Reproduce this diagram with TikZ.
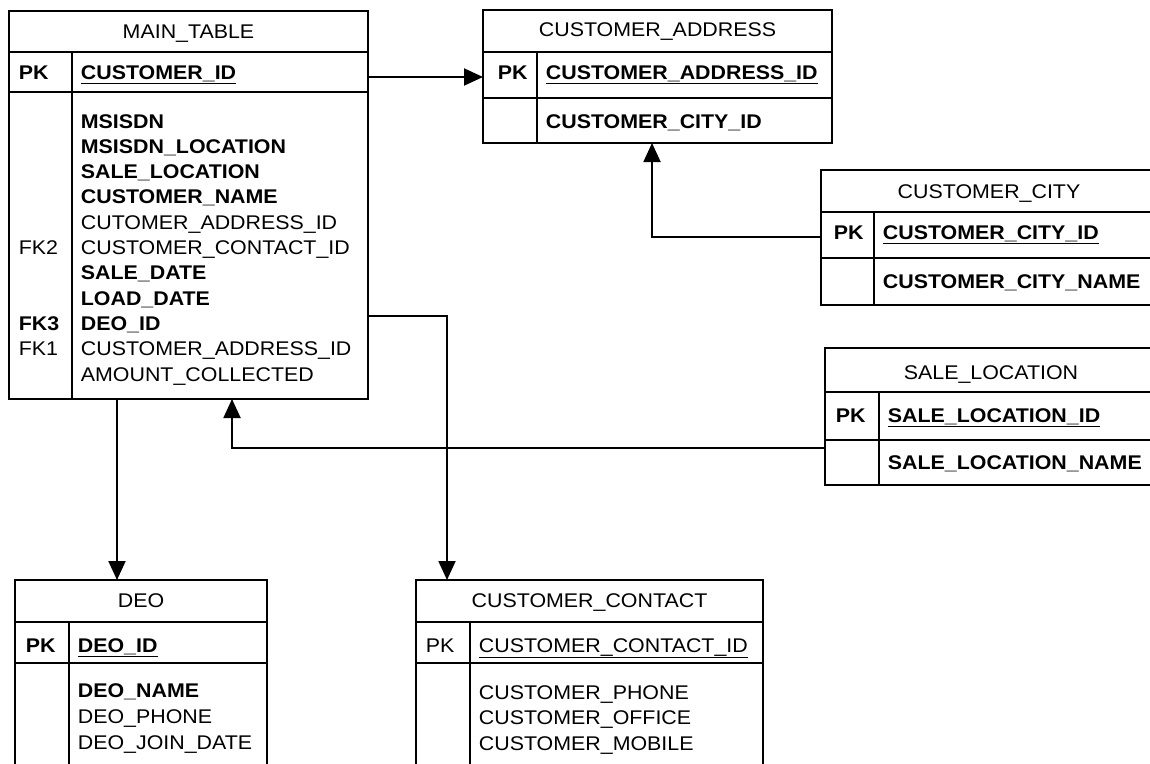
\documentclass[tikz,border=0pt]{standalone}
\usepackage{fontspec}
\setmainfont{Liberation Sans}[FakeStretch=1.08]
\usetikzlibrary{arrows.meta}
\newcommand\erdfont{\fontsize{19.8}{24}\selectfont}
% table outline: name, left, top, right, bottom, header-bottom, pk-bottom, divider-x
\newcommand\erdtable[8]{%
  \node[tbl, minimum width={(#4-#2)*1pt}, minimum height={(#5-#3)*1pt}] (#1) at (#2,#3) {};
  \draw (#2,#6) -- (#4,#6);
  \draw (#2,#7) -- (#4,#7);
  \draw (#8,#6) -- (#8,#5);
}
\begin{document}
\begin{tikzpicture}[x=1pt,y=-1pt,line width=1.8pt,
  tbl/.style={draw, inner sep=0pt, outer sep=0pt, anchor=north west},
  txt/.style={anchor=base west, inner sep=0pt, font=\erdfont},
  ttl/.style={anchor=base, inner sep=0pt, font=\erdfont},
  arr/.style={-{Triangle[length=19pt,width=17pt]}, line width=1.9pt}]
\useasboundingbox (0,0) rectangle (1150,763);
\clip (0,0) rectangle (1150,763);

% ---------- tables ----------
\erdtable{main}{9}{11}{368}{399}{52}{92}{72}
\erdtable{addr}{483}{10}{832}{143}{52}{98}{537}
\erdtable{city}{821}{170}{1160}{305}{212}{258}{874}
\erdtable{sale}{825}{348}{1160}{485}{392}{440}{879}
\erdtable{deo}{15}{580}{267}{790}{622}{663}{69}
\erdtable{contact}{416}{580}{763}{790}{622}{663}{470}

% ---------- MAIN_TABLE ----------
\node[ttl] (mT) at (188.5,38) {MAIN\_TABLE};
\node[txt] (mPK) at (18,79) {\textbf{PK}};
\node[txt] (mP) at (80,79) {\underline{\textbf{CUSTOMER\_ID}}};
\node[txt] (m1) at (80,128) {\textbf{MSISDN}};
\node[txt] (m2) at (80,153.3) {\textbf{MSISDN\_LOCATION}};
\node[txt] (m3) at (80,178.6) {\textbf{SALE\_LOCATION}};
\node[txt] (m4) at (80,203.9) {\textbf{CUSTOMER\_NAME}};
\node[txt] (m5) at (80,229.2) {CUTOMER\_ADDRESS\_ID};
\node[txt] (mF2) at (18,254.5) {FK2};
\node[txt] (m6) at (80,254.5) {CUSTOMER\_CONTACT\_ID};
\node[txt] (m7) at (80,279.8) {\textbf{SALE\_DATE}};
\node[txt] (m8) at (80,305.1) {\textbf{LOAD\_DATE}};
\node[txt] (mF3) at (18,330.4) {\textbf{FK3}};
\node[txt] (m9) at (80,330.4) {\textbf{DEO\_ID}};
\node[txt] (mF1) at (18,355.7) {FK1};
\node[txt] (m10) at (80,355.7) {CUSTOMER\_ADDRESS\_ID};
\node[txt] (m11) at (80,381) {AMOUNT\_COLLECTED};

% ---------- CUSTOMER_ADDRESS ----------
\node[ttl] (aT) at (657.5,36) {CUSTOMER\_ADDRESS};
\node[txt] (aPK) at (497,79) {\textbf{PK}};
\node[txt] (aP) at (545,79) {\underline{\textbf{CUSTOMER\_ADDRESS\_ID}}};
\node[txt] (a1) at (545,128) {\textbf{CUSTOMER\_CITY\_ID}};

% ---------- CUSTOMER_CITY ----------
\node[ttl] (cT) at (989,198) {CUSTOMER\_CITY};
\node[txt] (cPK) at (833,239) {\textbf{PK}};
\node[txt] (cP) at (882,239) {\underline{\textbf{CUSTOMER\_CITY\_ID}}};
\node[txt] (c1) at (882,288) {\textbf{CUSTOMER\_CITY\_NAME}};

% ---------- SALE_LOCATION ----------
\node[ttl] (sT) at (991,379) {SALE\_LOCATION};
\node[txt] (sPK) at (835,422) {\textbf{PK}};
\node[txt] (sP) at (887,422) {\underline{\textbf{SALE\_LOCATION\_ID}}};
\node[txt] (s1) at (887,469) {\textbf{SALE\_LOCATION\_NAME}};

% ---------- DEO ----------
\node[ttl] (dT) at (141,607) {DEO};
\node[txt] (dPK) at (25,652) {\textbf{PK}};
\node[txt] (dP) at (77,652) {\underline{\textbf{DEO\_ID}}};
\node[txt] (d1) at (77,697) {\textbf{DEO\_NAME}};
\node[txt] (d2) at (77,723) {DEO\_PHONE};
\node[txt] (d3) at (77,749) {DEO\_JOIN\_DATE};

% ---------- CUSTOMER_CONTACT ----------
\node[ttl] (kT) at (589.5,607) {CUSTOMER\_CONTACT};
\node[txt] (kPK) at (425,652) {PK};
\node[txt] (kP) at (478,652) {\underline{CUSTOMER\_CONTACT\_ID}};
\node[txt] (k1) at (478,699) {CUSTOMER\_PHONE};
\node[txt] (k2) at (478,724) {CUSTOMER\_OFFICE};
\node[txt] (k3) at (478,750) {CUSTOMER\_MOBILE};

% ---------- connectors ----------
\coordinate (yA) at (0,77);
\coordinate (yB) at (0,316);
\coordinate (yC) at (0,237);
\coordinate (yS) at (0,448);
\coordinate (xC) at (652,0);
\coordinate (xS) at (232,0);
\coordinate (xD) at (117,0);
\coordinate (xK) at (447,0);

\draw[arr] (main.east |- yA) -- (addr.west |- yA);
\draw[arr] (city.west |- yC) -| (addr.south -| xC);
\draw[arr] (sale.west |- yS) -| (main.south -| xS);
\draw[arr] (main.south -| xD) -- (deo.north -| xD);
\draw[arr] (main.east |- yB) -| (contact.north -| xK);
\end{tikzpicture}
\end{document}
